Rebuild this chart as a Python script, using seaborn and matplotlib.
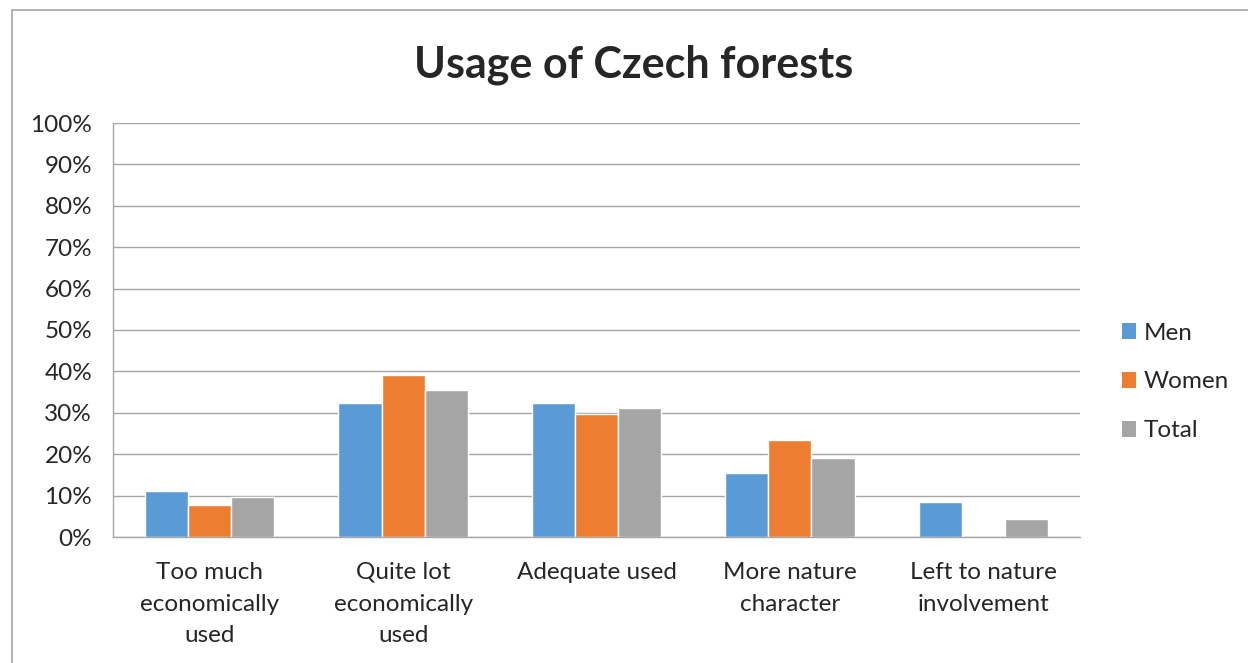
import pandas as pd
import matplotlib
matplotlib.use("Agg")
import matplotlib.pyplot as plt
from matplotlib.patches import Rectangle, Patch
import seaborn as sns

categories = ["Too much\neconomically\nused", "Quite lot\neconomically\nused",
              "Adequate used", "More nature\ncharacter", "Left to nature\ninvolvement"]
men = [11.2, 32.4, 32.4, 15.4, 8.4]
women = [7.8, 39.1, 29.7, 23.4, 0.0]
total = [9.6, 35.6, 31.1, 19.2, 4.3]
series = ["Men", "Women", "Total"]
colors = ["#5B9BD5", "#ED7D31", "#A5A5A5"]
yticks = list(range(0, 101, 10))

rows = []
for name, vals in zip(series, [men, women, total]):
    for cat, v in zip(categories, vals):
        rows.append({"Category": cat, "Group": name, "Value": v})
df = pd.DataFrame(rows)

sns.set_style("white")
plt.rcParams['font.family'] = ['Lato', 'DejaVu Sans']

fig = plt.figure(figsize=(12.48, 6.63), dpi=100)
ax = fig.add_axes([113 / 1248, 1 - 537 / 663, (1080 - 113) / 1248, (537 - 123) / 663])

sns.barplot(data=df, x="Category", y="Value", hue="Group", palette=colors,
            width=0.67, ax=ax, legend=False, saturation=1)

ax.set_ylim(0, 100)
ax.set_yticks(yticks)
ax.set_yticklabels([f"{t}%" for t in yticks], fontsize=17.5)
ax.set_xticks(range(len(categories)))
ax.set_xticklabels(categories, fontsize=17.5, linespacing=1.62)
ax.tick_params(axis="x", length=0, pad=18)
ax.tick_params(axis="y", length=0, pad=15)
ax.set_xlabel("")
ax.set_ylabel("")
ax.yaxis.grid(True, color="#A6A6A6", linewidth=1)
ax.set_axisbelow(True)
for s in ["top", "right"]:
    ax.spines[s].set_visible(False)
for s in ["left", "bottom"]:
    ax.spines[s].set_color("#A6A6A6")
    ax.spines[s].set_linewidth(1)

fig.text(634 / 1248, 1 - 65 / 663, "Usage of Czech forests", ha="center", va="center",
         fontsize=31, fontweight="bold")

handles = [Patch(facecolor=c, edgecolor="none") for c in colors]
fig.legend(handles, series, loc="center left", bbox_to_anchor=(1100 / 1248, 1 - 382 / 663),
           frameon=False, fontsize=17.5, handlelength=0.6, handleheight=0.6,
           handletextpad=0.3, labelspacing=1.15)

fig.patches.append(Rectangle((12 / 1248, -0.1), 1.2, 1 - 10 / 663 + 0.1,
                             transform=fig.transFigure, fill=False,
                             edgecolor="#A6A6A6", linewidth=1.2))

fig.savefig("out.png", dpi=100)
